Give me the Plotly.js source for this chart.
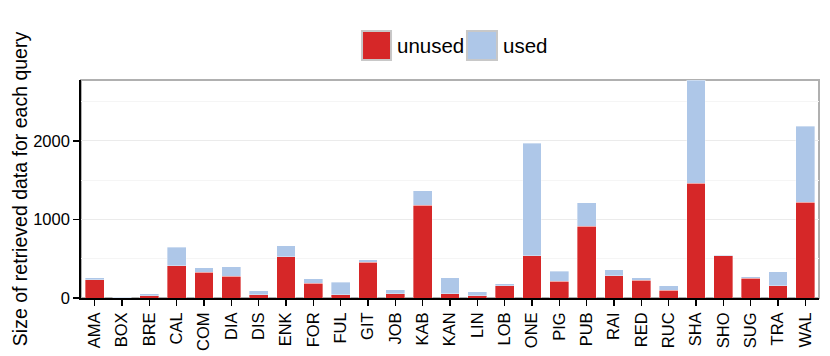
<!DOCTYPE html>
<html>
<head>
<meta charset="utf-8">
<script src="https://cdn.plot.ly/plotly-3.0.1.min.js"></script>
<style>
  html, body { margin: 0; padding: 0; background: #fff; }
  #chart { width: 830px; height: 356px; }
</style>
</head>
<body>
<div id="chart"></div>
<script>
// values
const queries = ['AMA','BOX','BRE','CAL','COM','DIA','DIS','ENK','FOR','FUL','GIT','JOB','KAB','KAN',
	'LIN','LOB','ONE','PIG','PUB','RAI','RED','RUC','SHA','SHO','SUG','TRA','WAL']
const unused = [230, 5, 30, 413, 328, 277, 43, 523, 187, 43, 455, 55, 1179, 55,
	30, 153, 536, 213, 911, 281, 226, 98, 1460, 540, 251, 157, 1221]
const used = [25, 5, 25, 230, 59, 123, 51, 141, 60, 157, 34, 51, 187, 200,
	47, 26, 1434, 127, 302, 76, 29, 59, 1314, 5, 21, 179, 962]
const yTicks = [0, 1000, 2000]
const seriesNames = ['unused', 'used']
const seriesColors = ['#d62728', '#aec7e8']

const newTrace = (name, values, color) => {
	return {
		type: 'bar',
		name: name,
		x: queries,
		y: values,
		marker: {color: color, line: {color: 'rgba(255,255,255,0.6)', width: 0.6}}
	}
}

const data = [
	newTrace(seriesNames[0], unused, seriesColors[0]),
	newTrace(seriesNames[1], used, seriesColors[1])
]

// legend drawn by hand so the swatches can be as large as in the original
const legendBoxes = [[0.3808, 0.4201], [0.5230, 0.5637]]
const legendText = [0.4255, 0.5691]
const legendShapes = legendBoxes.map((b, i) => ({
	type: 'rect', xref: 'paper', yref: 'paper', x0: b[0], x1: b[1], y0: 1.092, y1: 1.225,
	fillcolor: seriesColors[i], line: {color: '#c8c8c8', width: 2}
}))
const legendLabels = seriesNames.map((n, i) => ({
	text: n, xref: 'paper', yref: 'paper', x: legendText[i], y: 1.158,
	xanchor: 'left', yanchor: 'middle', showarrow: false,
	font: {size: 20.5, color: '#000'}
}))

const layout = {
	width: 830,
	height: 356,
	margin: {l: 81, r: 11, t: 80, b: 58},
	paper_bgcolor: '#fff',
	plot_bgcolor: '#fff',
	barmode: 'stack',
	bargap: 0.31,
	font: {family: 'Liberation Sans, Arial, sans-serif', size: 16.5, color: '#000'},
	showlegend: false,
	xaxis: {
		type: 'category',
		tickangle: -90,
		ticks: 'outside',
		ticklen: 6,
		tickwidth: 1.5,
		tickcolor: '#000',
		showline: true,
		linecolor: '#000',
		linewidth: 1.8,
		showgrid: false,
		tickfont: {size: 16.5}
	},
	yaxis: {
		title: {text: 'Size of retrieved data for each query', font: {size: 19.5}, standoff: 0},
		range: [0, 2774],
		tickvals: yTicks,
		ticktext: yTicks.map(String),
		ticks: 'outside',
		ticklen: 6,
		tickwidth: 1.5,
		tickcolor: '#000',
		showline: true,
		linecolor: '#000',
		linewidth: 1.8,
		showgrid: true,
		gridcolor: '#ebebeb',
		gridwidth: 1,
		zeroline: false,
		minor: {tickvals: [500, 1500, 2500], showgrid: true, gridcolor: '#f5f5f5', gridwidth: 1, ticks: ''},
		tickfont: {size: 16.5}
	},
	shapes: [{
		type: 'rect', xref: 'paper', yref: 'paper', x0: 0, x1: 1, y0: 0, y1: 1,
		line: {color: '#b0b0b0', width: 2}, layer: 'below'
	}].concat(legendShapes),
	annotations: legendLabels
}

Plotly.newPlot('chart', data, layout, {displayModeBar: false, staticPlot: true})
</script>
</body>
</html>
